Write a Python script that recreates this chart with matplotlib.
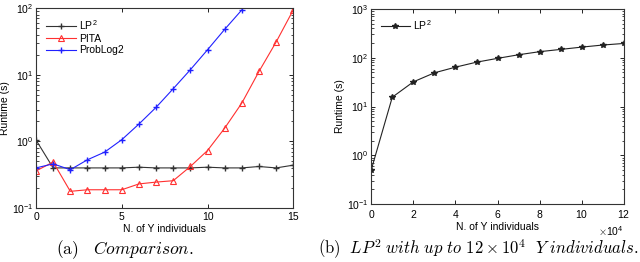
import matplotlib
matplotlib.use("Agg")
import matplotlib.pyplot as plt
from matplotlib.ticker import LogLocator, NullFormatter

plt.rcParams['font.family'] = ['Liberation Sans', 'DejaVu Sans']
plt.rcParams['mathtext.fontset'] = 'cm'

# ---- data: left panel ----
n_y = list(range(16))
lp2 = [1.05, 0.40, 0.40, 0.40, 0.40, 0.40, 0.41, 0.40, 0.40, 0.40, 0.41, 0.40, 0.40, 0.42, 0.40, 0.44]
pita = [0.36, 0.49, 0.178, 0.188, 0.188, 0.188, 0.23, 0.245, 0.257, 0.42, 0.73, 1.58, 3.76, 11.2, 31, 94]
problog_x = list(range(13))
problog = [0.40, 0.46, 0.376, 0.53, 0.69, 1.06, 1.82, 3.24, 6.17, 11.9, 23.7, 48, 94]

# ---- data: right panel ----
n_y_large = [0, 10000, 20000, 30000, 40000, 50000, 60000, 70000, 80000, 90000, 100000, 110000, 120000]
lp2_large = [0.5, 15.5, 32, 49, 64, 81, 97, 115, 133, 148, 165, 182, 196]

fig = plt.figure(figsize=(6.4, 2.62), dpi=100)
ax1 = fig.add_axes([0.05625, 0.206, 0.4020, 0.763])
ax2 = fig.add_axes([0.580, 0.221, 0.395, 0.745])

fs = 7.5
for ax in (ax1, ax2):
    ax.set_yscale('log')
    ax.tick_params(which='both', direction='in', top=True, right=True, labelsize=fs)
    ax.tick_params(axis='x', pad=3)
    ax.tick_params(axis='y', pad=2)
    ax.tick_params(which='major', length=3, width=0.6)
    ax.tick_params(which='minor', length=1.8, width=0.5)
    ax.yaxis.set_minor_locator(LogLocator(base=10, subs=range(2, 10)))
    ax.yaxis.set_minor_formatter(NullFormatter())
    for s in ax.spines.values():
        s.set_linewidth(0.8)
        s.set_color('#333333')

lp2_label = r'LP$^{\mathdefault{2}}$'

# left
ax1.plot(n_y, lp2, color='#333333', marker='+', ms=5, lw=0.8, label=lp2_label)
ax1.plot(n_y, pita, color='#ff3030', marker='^', ms=4, mfc='none', mew=0.8, lw=0.8, label='PITA')
ax1.plot(problog_x, problog, color='#2020ff', marker='+', ms=5, lw=0.8, label='ProbLog2')
ax1.set_xlim(0, 15)
ax1.set_ylim(0.1, 100)
ax1.set_xticks([0, 5, 10, 15])
ax1.set_xlabel('N. of Y individuals', fontsize=fs, labelpad=1)
ax1.set_ylabel('Runtime (s)', fontsize=fs, labelpad=1)
ax1.legend(loc='upper left', frameon=False, fontsize=fs, handlelength=2.8,
           borderaxespad=0.6, labelspacing=0.15, handletextpad=0.3)

# right
ax2.plot(n_y_large, lp2_large, color='#222222', marker='*', ms=4, lw=0.8, label=lp2_label)
ax2.set_xlim(0, 120000)
ax2.set_ylim(0.1, 1000)
ax2.set_xticks([0, 20000, 40000, 60000, 80000, 100000, 120000])
ax2.ticklabel_format(style='sci', axis='x', scilimits=(4, 4), useMathText=True)
ax2.xaxis.get_offset_text().set_fontsize(fs)
ax2.set_xlabel('N. of Y individuals', fontsize=fs, labelpad=1)
ax2.set_ylabel('Runtime (s)', fontsize=fs, labelpad=1)
ax2.legend(loc='upper left', frameon=False, fontsize=fs, handlelength=2.8,
           borderaxespad=0.5, handletextpad=0.3)
fig.canvas.draw()
ot = ax2.xaxis.get_offset_text()
ot.set_y(ot.get_position()[1] + 0.02)

# captions
fig.text(0.195, 0.048, r'$\mathrm{(a)}\ \ \ Comparison.$', fontsize=12.5, ha='center', va='center')
fig.text(0.748, 0.048, r'$\mathrm{(b)}\ \ LP^2\ with\ up\ to\ \mathrm{12}\times\mathrm{10}^4\ \ Y\ individuals.$',
         fontsize=12, ha='center', va='center')

fig.savefig('out.png', dpi=100)
